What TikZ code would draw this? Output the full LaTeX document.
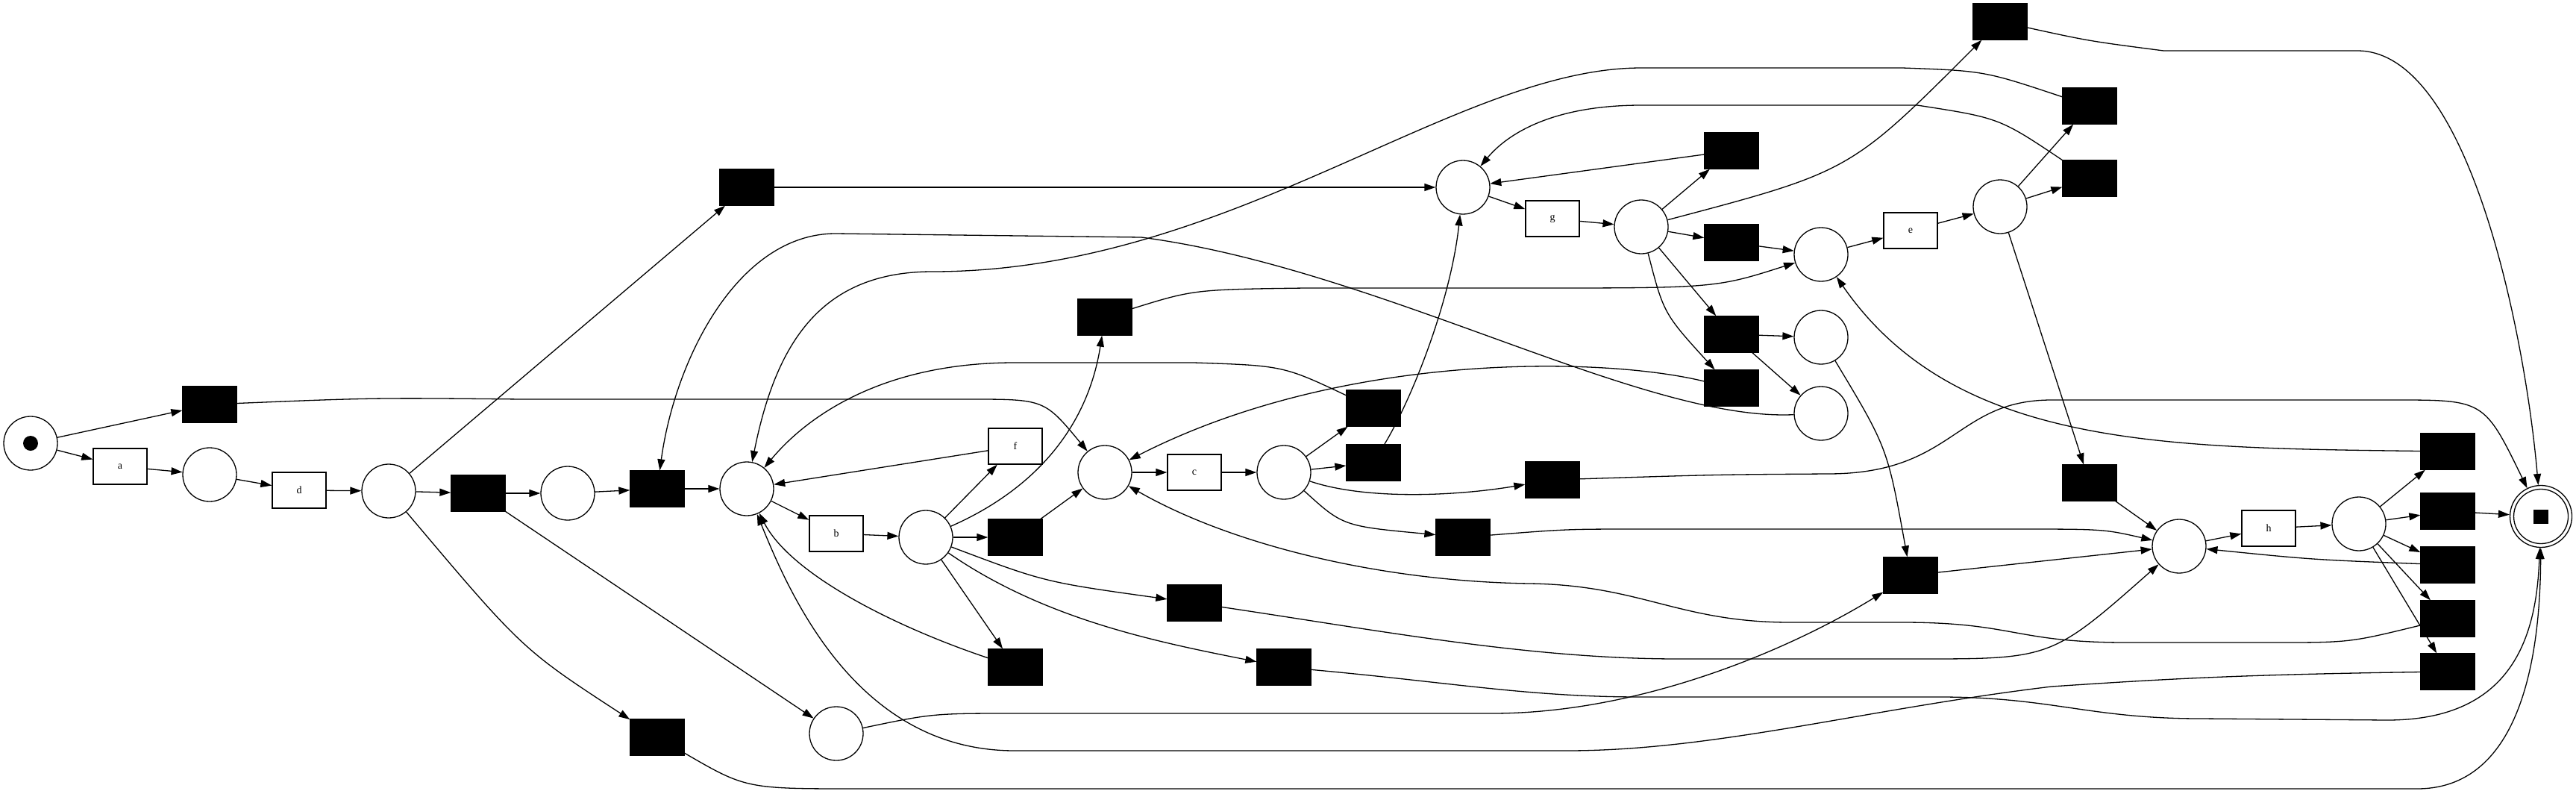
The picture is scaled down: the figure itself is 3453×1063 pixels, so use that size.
\documentclass[tikz,border=0pt]{standalone}
\usepackage{fontspec}
\setmainfont{Liberation Serif}
\usetikzlibrary{arrows.meta}
\begin{document}
\begin{tikzpicture}[x=1pt,y=-1pt,line width=1.3pt,>={Triangle[length=15pt,width=10pt]}]
\tikzstyle{place}=[draw, circle, fill=white, minimum size=72pt, inner sep=0pt]
\tikzstyle{trans}=[draw, rectangle, fill=white, minimum width=72pt, minimum height=48pt, inner sep=0pt]
\tikzstyle{silent}=[trans, fill=black]
\tikzstyle{arc}=[->]
\fontsize{14}{16}\selectfont
\useasboundingbox (0,0) rectangle (3453,1063);

\node[place] (p0) at (41, 594) {};
\node[place] (p1) at (281, 636) {};
\node[place] (p2) at (521, 658) {};
\node[place] (p3) at (761, 661) {};
\node[place] (p4) at (1001, 655) {};
\node[place] (p5) at (1241, 720) {};
\node[place] (p6) at (1481, 633) {};
\node[place] (p7) at (1721, 633) {};
\node[place] (p8) at (1961, 251) {};
\node[place] (p9) at (2200, 304) {};
\node[place] (p10) at (2441, 341) {};
\node[place] (p11) at (2441, 452) {};
\node[place] (p12) at (2441, 554) {};
\node[place] (p13) at (2681, 277) {};
\node[place] (p14) at (2921, 732) {};
\node[place] (p15) at (3162, 702) {};
\node[place] (p16) at (1121, 983) {};
\node[place, minimum size=83pt] (end) at (3406, 692) {};
\fill (p0) circle (10pt);
\draw (end) circle (36.5pt);
\fill ([shift={(-10pt,-9.5pt)}]end.center) rectangle ++(20pt,19pt);

\node[trans] (a) at (161, 625) {a};
\node[trans] (d) at (401, 657) {d};
\node[trans] (b) at (1121, 715) {b};
\node[trans] (f) at (1361, 598) {f};
\node[trans] (c) at (1601, 633) {c};
\node[trans] (g) at (2081, 293) {g};
\node[trans] (e) at (2561, 309) {e};
\node[trans] (h) at (3041, 708) {h};

\node[silent] (t1) at (281, 542) {};
\node[silent] (t2) at (1001, 251) {};
\node[silent] (t3) at (641, 661) {};
\node[silent] (t4) at (881, 655) {};
\node[silent] (t5) at (881, 988) {};
\node[silent] (t6) at (1361, 720) {};
\node[silent] (t7) at (1361, 894) {};
\node[silent] (t8) at (1481, 425) {};
\node[silent] (t9) at (1601, 808) {};
\node[silent] (t10) at (1721, 894) {};
\node[silent] (t11) at (2081, 643) {};
\node[silent] (t12) at (1961, 720) {};
\node[silent] (t13) at (2561, 771) {};
\node[silent] (t14) at (2681, 29) {};
\node[silent] (t15) at (2801, 142) {};
\node[silent] (t16) at (2801, 239) {};
\node[silent] (t17) at (1841, 547) {};
\node[silent] (t18) at (2321, 520) {};
\node[silent] (t19) at (2321, 202) {};
\node[silent] (t20) at (2321, 325) {};
\node[silent] (t21) at (2321, 448) {};
\node[silent] (t22) at (2801, 647) {};
\node[silent] (t23) at (1841, 620) {};
\node[silent] (t24) at (3281, 605) {};
\node[silent] (t25) at (3281, 685) {};
\node[silent] (t26) at (3281, 757) {};
\node[silent] (t27) at (3281, 829) {};
\node[silent] (t28) at (3281, 900) {};

\draw[arc] (p0) -- (t1);
\draw[arc] (p0) -- (a);
\draw[arc] (a) -- (p1);
\draw[arc] (p1) -- (d);
\draw[arc] (d) -- (p2);
\draw[arc] (p2) -- (t2);
\draw[arc] (t2) -- (p8);
\draw[arc] (p2) -- (t3);
\draw[arc] (t3) -- (p3);
\draw[arc] (t3) -- (p16);
\draw[arc] (p3) -- (t4);
\draw[arc] (t4) -- (p4);
\draw[arc] (p4) -- (b);
\draw[arc] (b) -- (p5);
\draw[arc] (p5) -- (f);
\draw[arc] (f) -- (p4);
\draw[arc] (p5) -- (t6);
\draw[arc] (t6) -- (p6);
\draw[arc] (p5) -- (t7);
\draw[arc] (p6) -- (c);
\draw[arc] (c) -- (p7);
\draw[arc] (p7) -- (t17);
\draw[arc] (p7) -- (t23);
\draw[arc] (p8) -- (g);
\draw[arc] (g) -- (p9);
\draw[arc] (p9) -- (t19);
\draw[arc] (t19) -- (p8);
\draw[arc] (p9) -- (t20);
\draw[arc] (t20) -- (p10);
\draw[arc] (p9) -- (t21);
\draw[arc] (t21) -- (p11);
\draw[arc] (t21) -- (p12);
\draw[arc] (p10) -- (e);
\draw[arc] (e) -- (p13);
\draw[arc] (p13) -- (t15);
\draw[arc] (p13) -- (t16);
\draw[arc] (p13) -- (t22);
\draw[arc] (t22) -- (p14);
\draw[arc] (t13) -- (p14);
\draw[arc] (p14) -- (h);
\draw[arc] (h) -- (p15);
\draw[arc] (p15) -- (t24);
\draw[arc] (p15) -- (t25);
\draw[arc] (p15) -- (t26);
\draw[arc] (p15) -- (t27);
\draw[arc] (p15) -- (t28);
\draw[arc] (t25) -- (end);

\draw[arc] (t1) .. controls (500,533) .. (700,535) -- (1300,535) .. controls (1400,535) .. (p6);
\draw[arc] (p2) .. controls (700,870) .. (t5);
\draw[arc] (t5) .. controls (1000,1057) .. (1150,1057) -- (3240,1057) .. controls (3390,1057) and (3405,850) .. (end);
\draw[arc] (t7) .. controls (1200,840) and (1060,770) .. (p4);
\draw[arc] (p5) .. controls (1400,650) and (1460,560) .. (t8);
\draw[arc] (t8) .. controls (1600,388) .. (1750,386) -- (2050,386) .. controls (2300,386) .. (p10);
\draw[arc] (p5) .. controls (1400,780) .. (t9);
\draw[arc] (t9) .. controls (1850,845) and (2050,883) .. (2250,883) -- (2570,883) .. controls (2750,883) .. (p14);
\draw[arc] (p5) .. controls (1400,830) and (1550,860) .. (t10);
\draw[arc] (t10) .. controls (1950,915) and (2050,934) .. (2200,934) -- (2600,934) .. controls (2750,934) and (2800,963) .. (2950,963) -- (3200,965) .. controls (3370,965) and (3400,850) .. (end);
\draw[arc] (p7) .. controls (1830,670) and (1950,665) .. (t11);
\draw[arc] (t11) .. controls (2300,636) .. (2450,635) .. controls (2620,635) and (2620,536) .. (2750,536) -- (3210,536) .. controls (3330,536) .. (end);
\draw[arc] (p7) .. controls (1800,705) .. (t12);
\draw[arc] (t12) .. controls (2100,709) .. (2200,709) -- (2700,709) .. controls (2820,709) .. (p14);
\draw[arc] (t17) .. controls (1720,490) .. (1600,486) -- (1360,486) .. controls (1180,486) and (1080,560) .. (p4);
\draw[arc] (t23) .. controls (1895,530) and (1945,400) .. (p8);
\draw[arc] (p9) .. controls (2230,420) .. (t18);
\draw[arc] (t18) .. controls (2150,478) and (1800,470) .. (p6);
\draw[arc] (p9) .. controls (2480,230) .. (t14);
\draw[arc] (t14) .. controls (2800,55) .. (2900,68) -- (3160,68) .. controls (3310,68) and (3385,450) .. (end);
\draw[arc] (t15) .. controls (2660,95) .. (2550,91) -- (2200,91) .. controls (1950,91) and (1650,364) .. (1250,364) .. controls (1100,364) and (1040,460) .. (p4);
\draw[arc] (t16) .. controls (2680,158) .. (2570,141) -- (2200,141) .. controls (2080,141) and (2020,180) .. (p8);
\draw[arc] (p11) .. controls (2530,600) .. (t13);
\draw[arc] (p16) .. controls (1250,956) .. (1360,956) -- (2000,956) .. controls (2200,956) and (2400,870) .. (t13);
\draw[arc] (p12) .. controls (2200,565) and (1850,360) .. (1530,318) -- (1120,313) .. controls (990,313) and (905,480) .. (t4);
\draw[arc] (t24) .. controls (2900,600) and (2620,600) .. (p10);
\draw[arc] (t26) .. controls (3100,750) .. (p14);
\draw[arc] (t27) .. controls (3150,861) .. (3050,861) -- (2850,861) .. controls (2700,861) and (2700,834) .. (2550,834) -- (2400,834) .. controls (2250,834) and (2200,784) .. (2050,782) .. controls (1850,779) and (1650,730) .. (p6);
\draw[arc] (t28) .. controls (3000,904) and (2900,910) .. (2750,920) .. controls (2500,950) and (2300,1006) .. (2100,1006) -- (1360,1006) .. controls (1150,1006) and (1060,800) .. (p4);
\end{tikzpicture}
\end{document}
